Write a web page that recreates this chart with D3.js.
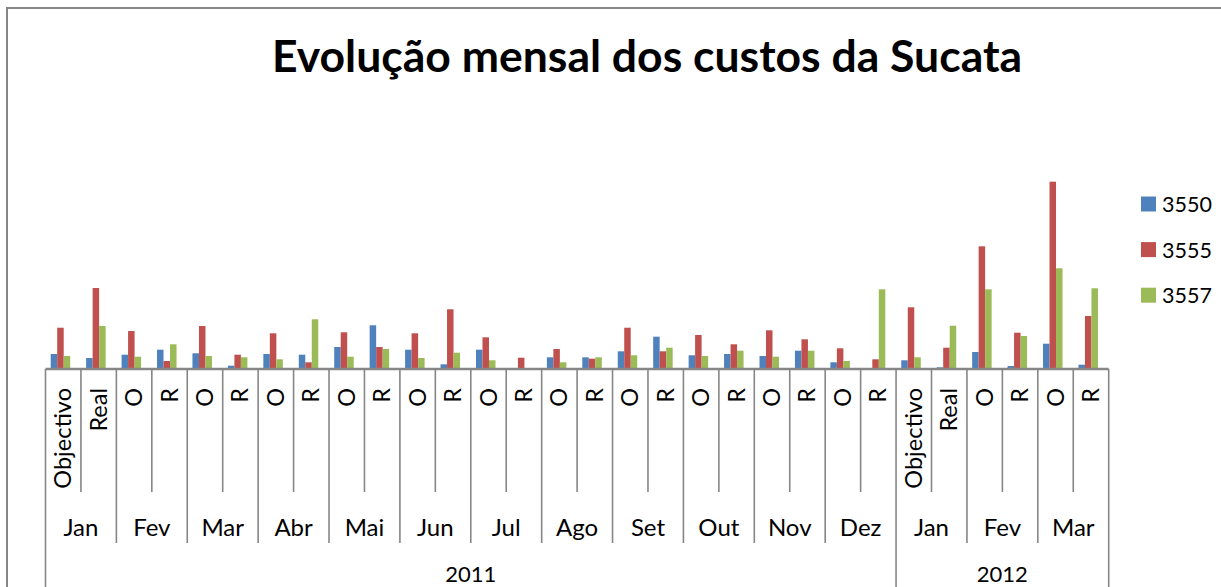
<!DOCTYPE html>
<html>
<head>
<meta charset="utf-8">
<script src="https://cdn.jsdelivr.net/npm/d3@7"></script>
<style>
	html, body { margin: 0; padding: 0; background: #fff; overflow: hidden; }
	text { font-family: Lato, "Open Sans", sans-serif; fill: #000; }
</style>
</head>
<body>
<div id="chart"></div>
<script>
// DATA
const months = ["Jan", "Fev", "Mar", "Abr", "Mai", "Jun", "Jul", "Ago", "Set", "Out", "Nov", "Dez", "Jan", "Fev", "Mar"];
const years = ["2011", "2012"];
const monthsPerYear = [12, 3];
const subLabels = [
	"Objectivo", "Real", "O", "R", "O", "R", "O", "R", "O", "R", "O", "R",
	"O", "R", "O", "R", "O", "R", "O", "R", "O", "R", "O", "R",
	"Objectivo", "Real", "O", "R", "O", "R"
];
const seriesNames = ["3550", "3555", "3557"];
const colors = ["#4F81BD", "#C0504D", "#9BBB59"];
const s3550 = [15, 11, 14.3, 19.3, 15.7, 3.3, 15, 14.3, 22, 43.7, 19.3, 4.7, 19.3, 0.4, 11.7, 11.7, 17.7, 32.3, 13.7, 15, 13, 18.3, 6.7, 0, 8.7, 1.7, 17, 3, 25.3, 4.3];
const s3555 = [41.3, 81, 38, 8, 43, 14.3, 35.7, 6.7, 36.7, 22, 35.7, 59.7, 31.7, 11.3, 20, 10.3, 41.3, 17.7, 34, 24.7, 38.7, 29.7, 20.7, 9.7, 61.7, 21.3, 122.7, 36.3, 187.3, 53];
const s3557 = [13, 43, 12.3, 24.7, 13, 11.7, 9.7, 49.7, 12.3, 20, 11, 16.3, 8.7, 0.7, 6.7, 11.7, 13.7, 21.3, 13, 18.3, 12.3, 18.3, 8, 79.7, 11.7, 43.3, 79.7, 33, 100.7, 80.7];
const seriesValues = [s3550, s3555, s3557];


// SVG DIMENSIONS
const width = 1221;
const height = 587;
const svg = d3.select("#chart")
	.append("svg")
	.attr("width", width)
	.attr("height", height);

const gridColor = "#868686";

// chart frame (only top & left visible in the crop)
svg.append("rect")
	.attr("x", 7).attr("y", 8)
	.attr("width", 1400).attr("height", 800)
	.attr("fill", "none")
	.attr("stroke", gridColor)
	.attr("stroke-width", 2);


// SCALES
const axisY = 369;
const x0 = d3.scaleBand()
	.domain(d3.range(subLabels.length))
	.range([45.5, 1108.7]);
const x1 = d3.scaleBand()
	.domain(seriesNames)
	.range([5.2, 24.7]);
const y = d3.scaleLinear()
	.domain([0, 200])
	.range([axisY, axisY - 200]);


// TITLE
svg.append("text")
	.attr("x", 647)
	.attr("y", 72)
	.attr("text-anchor", "middle")
	.style("font-weight", "bold")
	.style("font-size", "44.5px")
	.text("Evolução mensal dos custos da Sucata");


// BARS
const rows = d3.range(subLabels.length).map(i => ({
	i: i,
	vals: seriesNames.map((s, k) => ({ key: s, k: k, v: seriesValues[k][i] }))
}));

svg.append("g")
	.selectAll("g")
	.data(rows)
	.join("g")
		.attr("transform", d => `translate(${x0(d.i)},0)`)
	.selectAll("rect")
	.data(d => d.vals)
	.join("rect")
		.attr("x", d => x1(d.key))
		.attr("width", x1.bandwidth())
		.attr("y", d => y(d.v))
		.attr("height", d => y(0) - y(d.v))
		.attr("fill", d => colors[d.k]);


// CATEGORY AXIS (multi level)
const axis = svg.append("g");
axis.append("line")
	.attr("x1", x0.range()[0]).attr("x2", x0.range()[1])
	.attr("y1", axisY).attr("y2", axisY)
	.attr("stroke", gridColor)
	.attr("stroke-width", 2.5);

// separators at category boundaries
const yearStarts = [0, monthsPerYear[0] * 2, (monthsPerYear[0] + monthsPerYear[1]) * 2];
d3.range(subLabels.length + 1).forEach(b => {
	const bx = b < subLabels.length ? x0(b) : x0.range()[1];
	let y2 = 492;
	if (b % 2 === 0) y2 = 543;
	if (yearStarts.includes(b)) y2 = height + 5;
	axis.append("line")
		.attr("x1", bx).attr("x2", bx)
		.attr("y1", axisY).attr("y2", y2)
		.attr("stroke", gridColor)
		.attr("stroke-width", 1.6);
});

// level 1 labels (rotated)
axis.selectAll("text.sub")
	.data(subLabels)
	.join("text")
		.attr("class", "sub")
		.attr("text-anchor", "end")
		.attr("transform", (d, i) => `translate(${x0(i) + x0.bandwidth() / 2 + 8},388) rotate(-90)`)
		.style("font-size", "23.5px")
		.text(d => d);

// level 2 labels (months)
axis.selectAll("text.month")
	.data(months)
	.join("text")
		.attr("class", "month")
		.attr("x", (d, m) => x0(m * 2) + x0.bandwidth())
		.attr("y", 536)
		.attr("text-anchor", "middle")
		.style("font-size", "24px")
		.text(d => d);

// level 3 labels (years)
axis.selectAll("text.year")
	.data(years)
	.join("text")
		.attr("class", "year")
		.attr("x", (d, k) => {
			const a = yearStarts[k], b = yearStarts[k + 1];
			const xb = b < subLabels.length ? x0(b) : x0.range()[1];
			return (x0(a) + xb) / 2;
		})
		.attr("y", 582)
		.attr("text-anchor", "middle")
		.style("font-size", "22px")
		.text(d => d);


// LEGEND
const legend = svg.append("g")
	.selectAll("g")
	.data(seriesNames)
	.join("g")
		.attr("transform", (d, k) => `translate(1141,${204 + k * 45.6})`);
legend.append("rect")
	.attr("x", 0).attr("y", -7.5)
	.attr("width", 15).attr("height", 15)
	.attr("fill", (d, k) => colors[k]);
legend.append("text")
	.attr("x", 21)
	.attr("y", 8)
	.style("font-size", "21.5px")
	.text(d => d);
</script>
</body>
</html>
